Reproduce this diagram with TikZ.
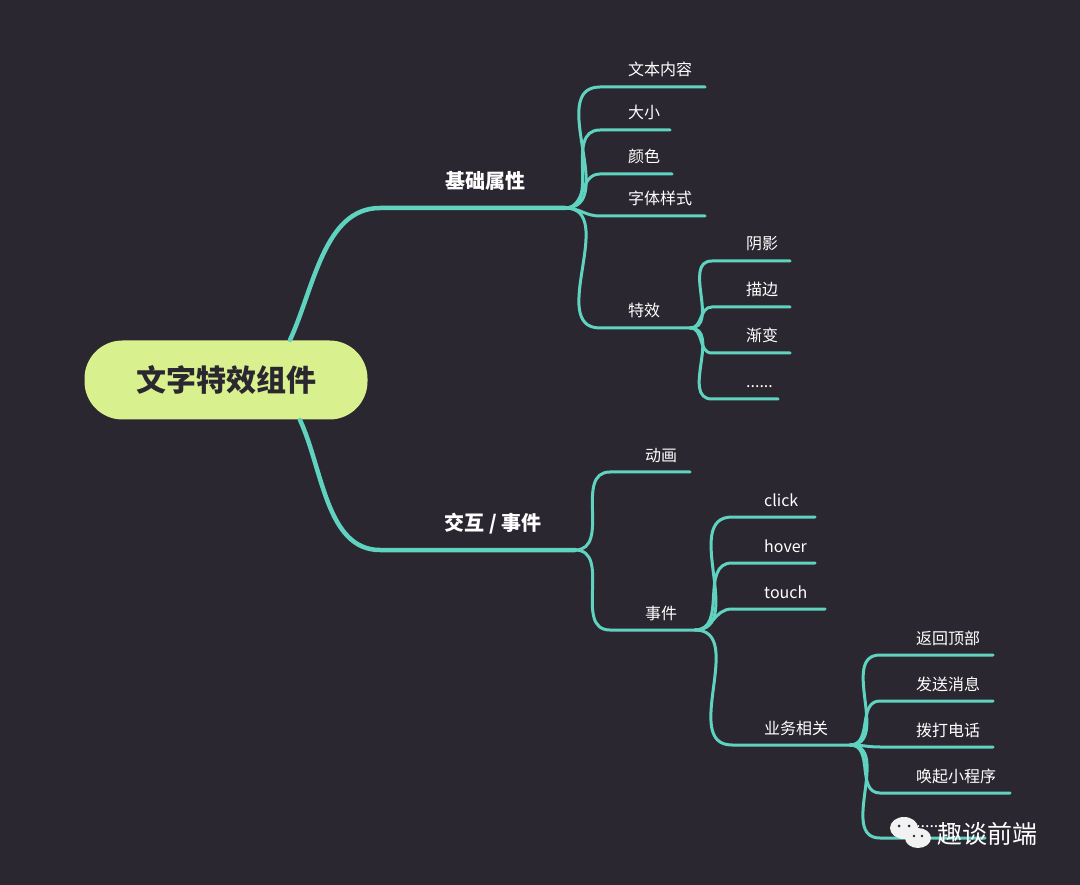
\documentclass[tikz,border=0pt]{standalone}
\usepackage{fontspec}
\setmainfont{Noto Sans CJK SC}
\definecolor{bg}{HTML}{2B2730}
\definecolor{br}{HTML}{5FD3BF}
\definecolor{rootc}{HTML}{D8F08E}
\begin{document}
\begin{tikzpicture}[x=1pt,y=-1pt,
  ln/.style={draw=br,line width=3pt,line cap=round},
  ln1/.style={draw=br,line width=4.5pt,line cap=round},
  lab/.style={text=white,font=\fontsize{16}{16}\selectfont,inner sep=0pt},
  lab1/.style={text=white,font=\fontsize{20}{20}\selectfont\bfseries,inner sep=0pt}]
\fill[bg] (0,0) rectangle (1080,885);
\useasboundingbox (0,0) rectangle (1080,885);
\node[fill=rootc,rounded corners=38pt,minimum width=283pt,minimum height=79pt,
  font=\fontsize{30}{30}\selectfont\bfseries,text=bg] (root) at (226,380) {文字特效组件};
% level 1
\coordinate (r1) at (290,340); \coordinate (r2) at (300,420);
\coordinate (a0) at (380,208); \coordinate (a1) at (565,208);
\coordinate (b0) at (380,550); \coordinate (b1) at (575,550);
\draw[ln1] (r1) to[in=180,out=65,looseness=0.9] (a0) -- (a1);
\draw[ln1] (r2) to[in=180,out=-65,looseness=0.9] (b0) -- (b1);
\node[lab1] (A) at (485,181) {基础属性};
\node[lab1] (B) at (493,524) {交互 / 事件};
\newcommand\leaf[7]{% parent,name,y,x0,x1,textx,text
  \coordinate (#2s) at (#4,#3); \coordinate (#2e) at (#5,#3);
  \draw[ln] (#1) to[out=0,in=180,looseness=1.1] (#2s) -- (#2e);
  \node[lab,anchor=base west] (#2) at (#6,#3-11) {#7};}
\leaf{a1}{a2}{87}{600}{705}{628}{文本内容}
\leaf{a1}{a3}{130}{600}{670}{628}{大小}
\leaf{a1}{a4}{174}{600}{672}{628}{颜色}
\leaf{a1}{a5}{216}{600}{705}{628}{字体样式}
\leaf{a1}{a6}{328}{600}{690}{628}{特效}
\coordinate (a6x) at (690,328);
\leaf{a6x}{c1}{261}{712}{790}{746}{阴影}
\leaf{a6x}{c2}{307}{712}{790}{746}{描边}
\leaf{a6x}{c3}{353}{712}{790}{746}{渐变}
\leaf{a6x}{c4}{399}{712}{778}{746}{......}
\leaf{b1}{d1}{472}{610}{690}{645}{动画}
\leaf{b1}{d2}{630}{610}{695}{645}{事件}
\coordinate (d2x) at (695,630);
\leaf{d2x}{e1}{517}{732}{815}{764}{click}
\leaf{d2x}{e2}{563}{732}{815}{764}{hover}
\leaf{d2x}{e3}{609}{732}{825}{764}{touch}
\leaf{d2x}{e4}{745}{732}{850}{764}{业务相关}
\coordinate (e4x) at (850,745);
\leaf{e4x}{f1}{655}{880}{993}{916}{返回顶部}
\leaf{e4x}{f2}{701}{880}{993}{916}{发送消息}
\leaf{e4x}{f3}{747}{880}{993}{916}{拨打电话}
\leaf{e4x}{f4}{793}{880}{1010}{916}{唤起小程序}
\leaf{e4x}{f5}{838}{880}{985}{916}{......}
% watermark
\fill[white!90!gray] (904,828) ellipse (14pt and 11pt);
\fill[white!90!gray] (918,838) ellipse (13pt and 10pt);
\fill[bg] (899,826) circle (1.5pt) (909,826) circle (1.5pt);
\fill[bg] (914,836) circle (1.3pt) (922,836) circle (1.3pt);
\node[text=white,font=\fontsize{25}{25}\selectfont,anchor=west,inner sep=0pt] (wm) at (937,834) {趣谈前端};
\end{tikzpicture}
\end{document}
